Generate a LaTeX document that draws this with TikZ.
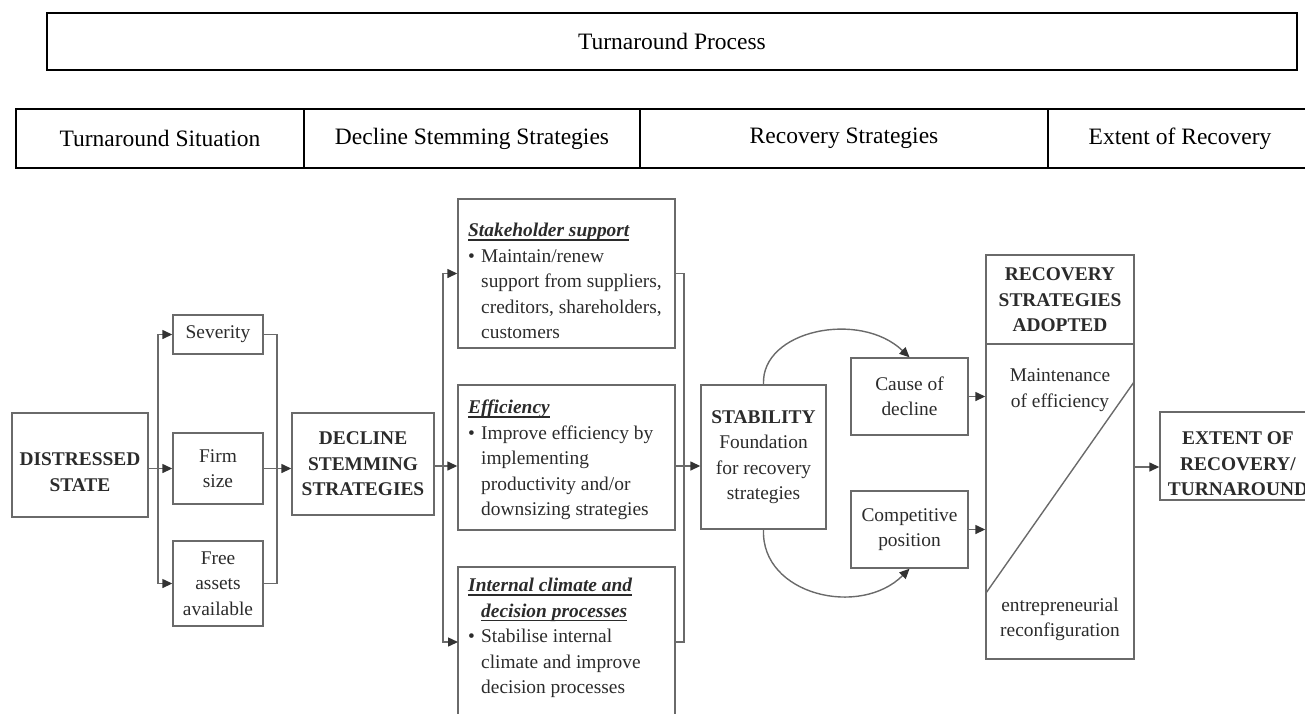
\documentclass[tikz,border=0pt]{standalone}
\usepackage{fontspec}
\setmainfont{Liberation Serif}
\usetikzlibrary{arrows.meta,calc}
\definecolor{lg}{HTML}{6A6A6A}
\definecolor{tx}{HTML}{2B2B2B}
\definecolor{tipc}{HTML}{333333}
\newcommand\hfs{\fontsize{23.5}{28}\selectfont}
\newcommand\mfs{\fontsize{19.4}{25.5}\selectfont}
\newcommand\ulx[1]{\setbox0\hbox{#1}\rlap{\rule[-4pt]{\wd0}{1.6pt}}\box0}
\newcommand\bul{\makebox[13pt][l]{\textbullet}}
\newcommand\ind{\hspace*{13pt}}
\begin{document}
\begin{tikzpicture}[x=1pt,y=-1pt,
  hdr/.style={draw=black,line width=1.5pt,inner sep=0pt,font=\hfs,text=black},
  box/.style={draw=lg,line width=1.4pt,inner sep=0pt,align=center,font=\mfs,text=tx},
  txt/.style={inner sep=0pt,align=left,font=\mfs,text=tx},
  ln/.style={draw=lg,line width=1.4pt},
  arr/.style={ln,-{Triangle[length=10pt,width=9pt,color=tipc]}}]
\useasboundingbox (0,0) rectangle (1305,713);

% header rows
\node[hdr,minimum width=1250pt,minimum height=57pt] (proc) at (672,41.5) {Turnaround Process};
\node[hdr,minimum width=288pt,minimum height=59pt] (h1) at (160,138.5) {Turnaround Situation};
\node[hdr,minimum width=336pt,minimum height=59pt] (h2) at (472,138.5) {Decline Stemming Strategies};
\node[hdr,minimum width=408pt,minimum height=59pt] (h3) at (844,138.5) {Recovery Strategies};
\node[hdr,minimum width=264pt,minimum height=59pt] (h4) at (1180,138.5) {Extent of Recovery};

% turnaround situation
\node[box,minimum width=136pt,minimum height=104pt] (dist) at (80,465) {};
\node[txt,align=center,font=\mfs\bfseries] (distt) at (80,472) {DISTRESSED\\STATE};
\node[box,minimum width=90pt,minimum height=39pt] (sev) at (218,334.5) {Severity};
\node[box,minimum width=90pt,minimum height=71pt] (firm) at (218,468.5) {Firm\\size};
\node[box,minimum width=90pt,minimum height=85pt] (free) at (218,583.5) {Free\\assets\\available};

\coordinate (bL) at (158,468.5);
\coordinate (cR) at (277,468.5);
\draw[arr] (dist.east |- firm.west) -- (firm.west);
\draw[arr] (bL) |- (sev.west);
\draw[arr] (bL) |- (free.west);
\draw[ln] (sev.east) -| (cR |- free.east) -- (free.east);

% decline stemming
\node[box,minimum width=142pt,minimum height=102pt] (decl) at (363,464) {\bfseries DECLINE\\\bfseries STEMMING\\\bfseries STRATEGIES};
\draw[arr] (firm.east) -- (firm.east -| decl.west);

\node[box,minimum width=217pt,minimum height=149pt] (stake) at (566.5,273.5) {};
\node[txt,anchor=west] (staket) at (468,281) {\bfseries\itshape\ulx{Stakeholder support}\\\bul Maintain/renew\\\ind support from suppliers,\\\ind creditors, shareholders,\\\ind customers};
\node[box,minimum width=217pt,minimum height=145pt] (effic) at (566.5,457.5) {};
\node[txt,anchor=west] (effict) at (468,460) {\bfseries\itshape\ulx{Efficiency}\\\bul Improve efficiency by\\\ind implementing\\\ind productivity and/or\\\ind downsizing strategies};
\draw[ln] (458,720) -- (458,567) coordinate (inTL) -- (675,567) coordinate (inTR) -- (675,720);
\node[txt,anchor=west] (intt) at (468,638) {\bfseries\itshape\ulx{Internal climate and}\\\ind\bfseries\itshape\ulx{decision processes}\\\bul Stabilise internal\\\ind climate and improve\\\ind decision processes};
\coordinate (inL) at (458,642);
\coordinate (inR) at (675,642);

\coordinate (bM) at (443,466);
\coordinate (cM) at (684,466);
\draw[arr] (decl.east |- bM) -- (bM -| effic.west);
\draw[arr] (bM) |- (stake.west);
\draw[arr] (bM) |- (inL);
\draw[ln] (stake.east) -| (cM |- inR) -- (inR);

% recovery strategies
\node[box,minimum width=125pt,minimum height=144pt] (stab) at (763.5,457) {\bfseries STABILITY\\Foundation\\for recovery\\strategies};
\draw[arr] (effic.east |- cM) -- (cM -| stab.west);
\node[box,minimum width=117pt,minimum height=77pt] (cause) at (909.5,396.5) {Cause of\\decline};
\node[box,minimum width=117pt,minimum height=77pt] (comp) at (909.5,529.5) {Competitive\\position};
\draw[arr] (stab.north) .. controls (761,330) and (860,310) .. (cause.north);
\draw[arr] (stab.south) .. controls (761,595) and (860,618) .. (comp.south);

\node[box,minimum width=148pt,minimum height=404pt] (rec) at (1060,457) {};
\draw[ln] (986,344) -- (1134,344);
\draw[ln] (986,593) -- (1134,382);
\node[txt,align=center,font=\mfs\bfseries] (rect) at (1060,300) {RECOVERY\\STRATEGIES\\ADOPTED};
\node[txt,align=center] (maint) at (1060,390) {Maintenance\\of efficiency};
\node[txt,align=center] (entre) at (1060,619.5) {entrepreneurial\\reconfiguration};
\draw[arr] (cause.east) -- (cause.east -| rec.west);
\draw[arr] (comp.east) -- (comp.east -| rec.west);

% extent
\node[box,minimum width=160pt,minimum height=88pt] (ext) at (1240,456) {};
\node[txt,align=center,font=\mfs\bfseries] (extt) at (1238,464) {EXTENT OF\\RECOVERY/\\TURNAROUND};
\draw[arr] ([yshift=-10pt]rec.east) -- ([yshift=-10pt]rec.east -| ext.west);
\end{tikzpicture}
\end{document}
